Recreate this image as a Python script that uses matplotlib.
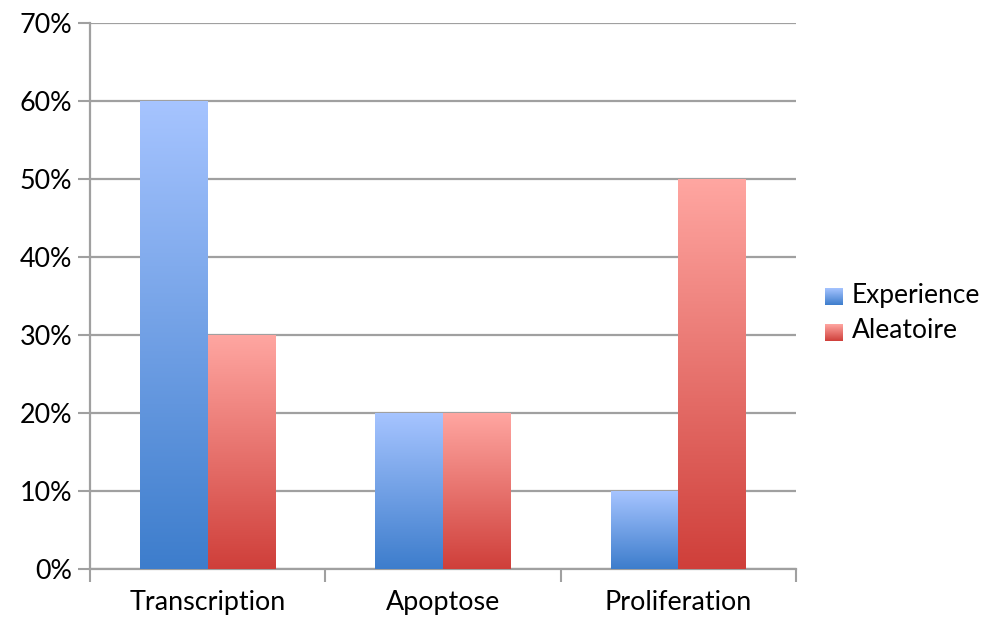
import matplotlib.pyplot as plt
import numpy as np
from matplotlib.colors import LinearSegmentedColormap

categories = ['Transcription', 'Apoptose', 'Proliferation']
experience = [60, 20, 10]
aleatoire = [30, 20, 50]
series_names = ['Experience', 'Aleatoire']

plt.rcParams['font.family'] = ['Lato', 'DejaVu Sans']

# dégradés vertical (foncé en bas, clair en haut)
blue_cmap = LinearSegmentedColormap.from_list('blue', ['#3d7dcc', '#a6c4ff'])
red_cmap = LinearSegmentedColormap.from_list('red', ['#cf3f3a', '#ffa6a1'])
grad = np.linspace(0, 1, 256).reshape(-1, 1)

fig = plt.figure(figsize=(9.96, 6.17), dpi=100)
ax = fig.add_axes([90 / 996, 48 / 617, 706 / 996, 546 / 617])

width = 0.287
x = np.arange(len(categories))
for i in x:
    for val, off, cmap in [(experience[i], -width / 2, blue_cmap),
                           (aleatoire[i], width / 2, red_cmap)]:
        ax.imshow(grad, cmap=cmap, origin='lower', aspect='auto',
                  extent=[i + off - width / 2, i + off + width / 2, 0, val],
                  zorder=3)

ax.set_xlim(-0.5, len(categories) - 0.5)
ax.set_ylim(0, 70)

ax.set_yticks(np.arange(0, 71, 10))
ax.set_yticklabels([f'{v}%' for v in range(0, 71, 10)], fontsize=19.4)
ax.yaxis.grid(True, color='#a0a0a0', linewidth=1.6, zorder=1)
ax.tick_params(axis='y', length=9, width=1.5, color='#a0a0a0', pad=4)

# séparateurs entre catégories + libellés au centre
ax.set_xticks(np.arange(-0.5, len(categories)))
ax.set_xticklabels([])
ax.tick_params(axis='x', which='major', length=9, width=1.5, color='#a0a0a0')
ax.set_xticks(x, minor=True)
ax.set_xticklabels(categories, minor=True, fontsize=19.4)
ax.tick_params(axis='x', which='minor', length=0, pad=15)

for s in ['top', 'right']:
    ax.spines[s].set_visible(False)
ax.spines['left'].set_color('#a0a0a0')
ax.spines['left'].set_linewidth(1.6)
ax.spines['bottom'].set_color('#a0a0a0')
ax.spines['bottom'].set_linewidth(1.6)
ax.set_axisbelow(True)

# légende avec carrés en dégradé
for k, (name, cmap) in enumerate(zip(series_names, [blue_cmap, red_cmap])):
    y_top = 288 + k * 36
    lax = fig.add_axes([825 / 996, 1 - (y_top + 17) / 617, 18 / 996, 17 / 617])
    lax.imshow(grad, cmap=cmap, origin='lower', aspect='auto')
    lax.axis('off')
    fig.text(852 / 996, 1 - (y_top + 7) / 617, name, fontsize=19, va='center')

fig.savefig('out.png', dpi=100)
